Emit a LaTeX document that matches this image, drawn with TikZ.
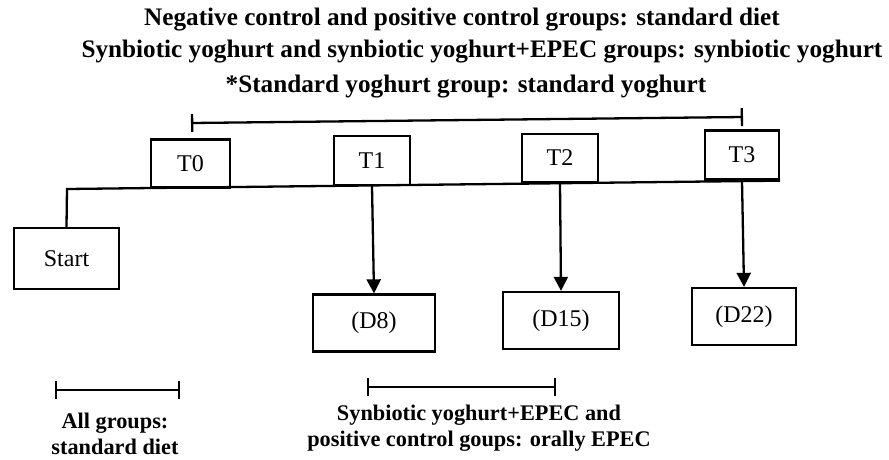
\documentclass[tikz,border=0pt]{standalone}
\usepackage{fontspec}
\setmainfont{Liberation Serif}
\usetikzlibrary{arrows.meta}
\begin{document}
\begin{tikzpicture}[x=1pt,y=-1pt,
  box/.style={draw,line width=2.3pt,inner sep=0pt,font=\fontsize{24}{28}\selectfont},
  link/.style={line width=2.3pt},
  arr/.style={line width=2.3pt,-{Triangle[length=14pt,width=14pt]}},
  span/.style={line width=2.3pt,{Bar[width=18pt,line width=2.3pt]}-{Bar[width=18pt,line width=2.3pt]}},
  title/.style={font=\bfseries\fontsize{25.2}{29}\selectfont,inner sep=0pt},
  note/.style={font=\bfseries\fontsize{22.3}{26}\selectfont,inner sep=0pt,align=center}]
\useasboundingbox (0,0) rectangle (889,459);
% title
\node[title] (h1) at (462,20) {Negative control and positive control groups: standard diet};
\node[title] (h2) at (482,52) {Synbiotic yoghurt and synbiotic yoghurt+EPEC groups: synbiotic yoghurt};
\node[title] (h3) at (466,87) {*Standard yoghurt group: standard yoghurt};
% top span
\coordinate (sl) at (191,123);
\coordinate (sr) at (743,117);
\draw[span] (sl) -- (sr);
% time boxes
\node[box,minimum width=79pt,minimum height=48pt] (T0) at (190.5,163.5) {T0};
\node[box,minimum width=76pt,minimum height=49pt] (T1) at (372,160.5) {T1};
\node[box,minimum width=76pt,minimum height=48pt] (T2) at (560,158) {T2};
\node[box,minimum width=74pt,minimum height=49pt] (T3) at (742,155) {T3};
\node[box,minimum width=105pt,minimum height=61pt] (S) at (66.5,258.5) {Start};
% timeline
\coordinate (tl) at (67,189);
\draw[link] (S.north) -- (tl) -- (T3.south east);
% day boxes
\node[box,minimum width=122pt,minimum height=57pt] (D8) at (374,323) {(D8)};
\node[box,minimum width=116pt,minimum height=57pt] (D15) at (561,320.5) {(D15)};
\node[box,minimum width=104pt,minimum height=57pt] (D22) at (744,316.5) {(D22)};
\draw[arr] (T1.south) -- (D8.north);
\draw[arr] (T2.south) -- (D15.north);
\draw[arr] (T3.south) -- (D22.north);
% bottom spans
\coordinate (al) at (55,390);
\coordinate (ar) at (180,390);
\draw[span] (al) -- (ar);
\coordinate (bl) at (367,387);
\coordinate (br) at (556,387);
\draw[span] (bl) -- (br);
\node[note] (n1) at (115,434) {All groups:\\standard diet};
\node[note] (n2) at (479,428.5) {Synbiotic yoghurt+EPEC and\\positive control goups: orally EPEC};
\end{tikzpicture}
\end{document}
